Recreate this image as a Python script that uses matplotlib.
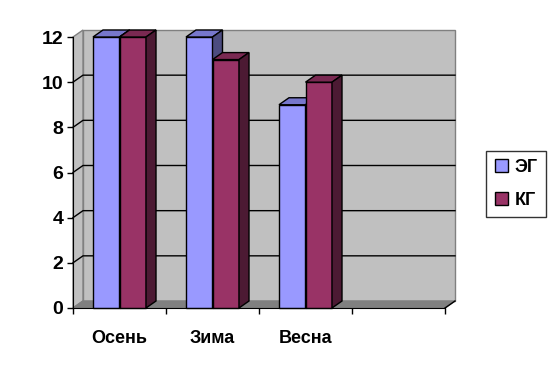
import matplotlib
matplotlib.use("Agg")
import matplotlib.pyplot as plt
from matplotlib.patches import Polygon, Patch

# Data
categories = ["Осень", "Зима", "Весна", ""]
series_names = ["ЭГ", "КГ"]
eg_values = [12, 12, 9]
kg_values = [12, 11, 10]
y_ticks = [0, 2, 4, 6, 8, 10, 12]

# Excel-like colours
front_colors = ["#9999ff", "#993366"]
top_colors = ["#7777cc", "#7a2952"]
side_colors = ["#4c4c80", "#4c1a33"]
wall_color = "#c0c0c0"
floor_color = "#808080"

plt.rcParams["font.family"] = ["Liberation Sans", "DejaVu Sans"]
plt.rcParams["font.weight"] = "bold"

fig = plt.figure(figsize=(5.52, 3.68), dpi=100)
W, H = 552, 368
x0, x1, y0, y1 = 73, 445, 308, 37
ax = fig.add_axes([x0 / W, 1 - y0 / H, (x1 - x0) / W, (y0 - y1) / H])
ncat = len(categories)
ymax = 12
ax.set_xlim(0, ncat)
ax.set_ylim(0, ymax)
ax.patch.set_visible(False)

# depth offset in data units (about 10 px right, 7 px up)
dx = 10 / ((x1 - x0) / ncat)
dy = 7 / ((y0 - y1) / ymax)


def poly(pts, fc, ec="black", lw=1.0, z=1):
    ax.add_patch(Polygon(pts, closed=True, facecolor=fc, edgecolor=ec,
                         linewidth=lw, clip_on=False, zorder=z))


# back wall, left wall, floor
poly([(dx, dy), (ncat + dx, dy), (ncat + dx, ymax + dy), (dx, ymax + dy)],
     wall_color, ec=floor_color, z=0)
poly([(0, 0), (dx, dy), (dx, ymax + dy), (0, ymax)], wall_color, ec=floor_color, z=0)
poly([(0, 0), (ncat, 0), (ncat + dx, dy), (dx, dy)], floor_color, ec=floor_color, z=0.5)

# gridlines
for v in y_ticks[1:-1]:
    ax.plot([0, dx, ncat + dx], [v, v + dy, v + dy], color="black", lw=1,
            clip_on=False, zorder=0.6)

# bars
bw = 0.285
start = 0.215
for i in range(len(eg_values)):
    for s, vals in enumerate([eg_values, kg_values]):
        v = vals[i]
        l = i + start + s * bw
        r = l + bw
        poly([(l, 0), (r, 0), (r, v), (l, v)], front_colors[s], z=2 + s)
        poly([(l, v), (r, v), (r + dx, v + dy), (l + dx, v + dy)], top_colors[s], z=2 + s)
        poly([(r, 0), (r + dx, dy), (r + dx, v + dy), (r, v)], side_colors[s], z=2 + s)

# right end of the floor edge
ax.plot([ncat, ncat + dx], [0, dy], color="black", lw=1, clip_on=False, zorder=1)

# axes
for sp in ["top", "right"]:
    ax.spines[sp].set_visible(False)
ax.spines["left"].set_color("black")
ax.spines["bottom"].set_color("black")
ax.spines["left"].set_zorder(5)
ax.spines["bottom"].set_zorder(5)
ax.set_yticks(y_ticks)
ax.set_yticklabels([str(t) for t in y_ticks], fontsize=14, fontweight="bold")
ax.tick_params(axis="y", length=4, width=1, pad=3, direction="out")
ax.set_xticks(range(ncat + 1))
ax.set_xticklabels([])
ax.tick_params(axis="x", which="major", length=4, width=1, direction="out")
ax.set_xticks([i + 0.5 for i in range(ncat)], minor=True)
ax.set_xticklabels(categories, minor=True, fontsize=13, fontweight="bold")
ax.tick_params(axis="x", which="minor", length=0, pad=16)

# legend
handles = [Patch(facecolor=front_colors[k], edgecolor="black", label=series_names[k])
           for k in range(2)]
leg = fig.legend(handles=handles, loc="center", bbox_to_anchor=(516 / W, 1 - 184 / H),
                 frameon=True, fancybox=False, edgecolor="black",
                 handlelength=0.75, handleheight=0.75, handletextpad=0.35,
                 labelspacing=0.9, borderpad=0.45, prop={"weight": "bold", "size": 13})
leg.get_frame().set_linewidth(1)

fig.savefig("out.png", dpi=100, facecolor="white")
